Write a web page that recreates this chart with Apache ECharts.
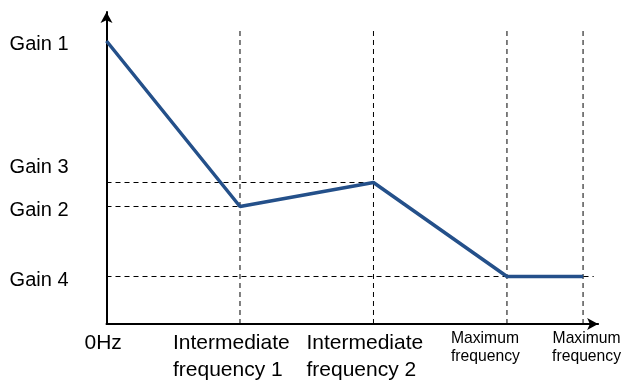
<!DOCTYPE html>
<html>
<head>
<meta charset="utf-8">
<script src="https://cdn.jsdelivr.net/npm/echarts@6/dist/echarts.min.js"></script>
<style>
html,body{margin:0;padding:0;background:#fff;}
#chart{width:624px;height:388px;}
</style>
</head>
<body>
<div id="chart"></div>
<script>
// ---- data ----
const xPos = [0, 1, 2, 3, 3.57];
const gainLine = [90.7, 37.66, 45.35, 15.22, 15.22];
const xLabels = ['0Hz', 'Intermediate\nfrequency 1', 'Intermediate\nfrequency 2', 'Maximum\nfrequency', 'Maximum\nfrequency'];
const gainNames = ['Gain 1', 'Gain 2', 'Gain 3', 'Gain 4'];
const gainValues = [90.7, 37.66, 45.35, 15.22];
const guideTop = 94.2;
const gain4GuideEnd = 3.65;
const xMax = 3.683;

// label style keys (presentation)
const xLabelStyle = ['z0', 'mid', 'mid', 'mx1', 'mx2'];
const gainLabelStyle = ['dn', 'dn', 'up', 'dn'];

const FONT = '"Liberation Sans", Arial, sans-serif';
const chart = echarts.init(document.getElementById('chart'), null, {renderer: 'canvas'});

const guideStyle = {color: '#000', width: 1, type: [5, 4]};
const series = [];
// vertical guides
xPos.slice(1).forEach(x => {
  series.push({type: 'line', data: [[x, 0], [x, guideTop]], symbol: 'none', silent: true,
    lineStyle: guideStyle, z: 1});
});
// horizontal guides
const hEnds = [xPos[1], xPos[2], gain4GuideEnd];
[gainValues[1], gainValues[2], gainValues[3]].forEach((g, i) => {
  series.push({type: 'line', data: [[0, g], [hEnds[i], g]], symbol: 'none', silent: true,
    lineStyle: guideStyle, z: 1});
});
// main curve
series.push({type: 'line', data: xPos.map((x, i) => [x, gainLine[i]]), symbol: 'none',
  lineStyle: {color: '#24508A', width: 3.5}, z: 5});

function xFormatter(v) {
  const i = xPos.findIndex(p => Math.abs(p - v) < 1e-6);
  if (i < 0) return '';
  const k = xLabelStyle[i];
  return xLabels[i].split('\n').map(s => '{' + k + '|' + s + '}').join('\n');
}
const xRich = {
  z0: {fontSize: 21, lineHeight: 27, width: 44, align: 'left', fontFamily: FONT, color: '#000'},
  mid: {fontSize: 21, lineHeight: 27, width: 134, align: 'left', fontFamily: FONT, color: '#000'},
  mx1: {fontSize: 15.7, lineHeight: 18, width: 112, align: 'left', fontFamily: FONT, color: '#000'},
  mx2: {fontSize: 15.7, lineHeight: 18, padding: [0, 0, 0, 7], fontFamily: FONT, color: '#000'}
};

chart.setOption({
  animation: false,
  backgroundColor: '#fff',
  grid: {left: 106.5, right: 24, top: 12, bottom: 64},
  xAxis: [{
    type: 'value', min: 0, max: xMax,
    axisLine: {show: true, lineStyle: {color: '#000', width: 2}, symbol: ['none', 'arrow'], symbolSize: [9, 11]},
    axisTick: {show: false},
    splitLine: {show: false},
    axisLabel: {
      customValues: xPos.slice(0, 4),
      hideOverlap: false,
      margin: 6,
      color: '#000',
      fontFamily: FONT,
      formatter: xFormatter,
      rich: xRich
    }
  }, {
    type: 'value', min: 0, max: xMax, position: 'bottom',
    axisLine: {show: false},
    axisTick: {show: false},
    splitLine: {show: false},
    axisLabel: {
      customValues: xPos.slice(4),
      hideOverlap: false,
      margin: 6,
      color: '#000',
      fontFamily: FONT,
      formatter: xFormatter,
      rich: xRich
    }
  }],
  yAxis: {
    type: 'value', min: 0, max: 100,
    axisLine: {show: true, lineStyle: {color: '#000', width: 2}, symbol: ['none', 'arrow'], symbolSize: [9, 11]},
    axisTick: {show: false},
    splitLine: {show: false},
    axisLabel: {
      customValues: gainValues,
      hideOverlap: false,
      margin: 38,
      color: '#000',
      fontFamily: FONT,
      formatter: function (v) {
        const i = gainValues.findIndex(p => Math.abs(p - v) < 1e-6);
        if (i < 0) return '';
        return '{' + gainLabelStyle[i] + '|' + gainNames[i] + '}';
      },
      rich: {
        dn: {fontSize: 20, padding: [7, 0, 0, 0], fontFamily: FONT, color: '#000'},
        up: {fontSize: 20, padding: [0, 0, 30, 0], fontFamily: FONT, color: '#000'}
      }
    }
  },
  series: series
});
</script>
</body>
</html>
